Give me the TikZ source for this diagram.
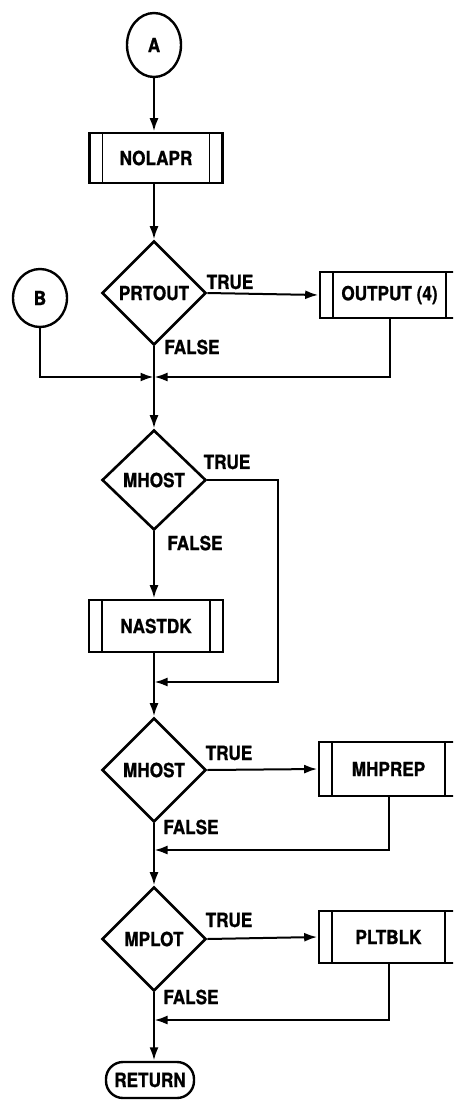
\documentclass[tikz,border=0pt]{standalone}
\usepackage{fontspec}
\setmainfont{TeX Gyre Heros}[BoldFeatures={FakeBold=1,FakeStretch=0.88}]
\usetikzlibrary{arrows.meta,shapes.geometric}

\begin{document}
\begin{tikzpicture}[x=1pt,y=-1pt,
  every node/.style={font=\bfseries\fontsize{19.5}{20}\selectfont},
  flow/.style={line width=2pt},
  arr/.style={flow,-{Latex[length=13pt,width=9pt]},shorten >=0.5pt},
  decision/.style={diamond,draw,line width=2.6pt,minimum width=104pt,
    minimum height=104pt,inner sep=0pt,aspect=1},
  connector/.style={ellipse,draw,line width=2.4pt,inner sep=0pt},
  procbox/.style={rectangle,draw,line width=2.6pt,minimum height=50pt,
    inner sep=0pt,
    path picture={
      \draw[line width=1.8pt]
        ([xshift=13pt]path picture bounding box.north west) --
        ([xshift=13pt]path picture bounding box.south west);
      \draw[line width=1.8pt]
        ([xshift=-13pt]path picture bounding box.north east) --
        ([xshift=-13pt]path picture bounding box.south east);}},
  terminal/.style={rectangle,draw,line width=2.4pt,rounded corners=17pt,
    minimum width=88pt,minimum height=36pt,inner sep=0pt},
  lbl/.style={inner sep=0pt}
]
\useasboundingbox (0,0) rectangle (453,1101);
\clip (0,0) rectangle (453,1101);

% off-page connectors
\node[connector,minimum width=54pt,minimum height=64pt] (A) at (154,45) {A};
\node[connector,minimum width=54pt,minimum height=58pt] (B) at (40,298) {B};

% main column
\node[procbox,minimum width=133pt] (nolapr) at (156,158) {NOLAPR};
\node[decision] (prtout) at (154,293) {PRTOUT};
\node[procbox,minimum width=139pt,minimum height=46pt] (output) at (389.5,295) {OUTPUT (4)};
\coordinate (j1) at (154,377);

\node[decision,minimum height=100pt] (mhost1) at (154,480) {MHOST};
\node[procbox,minimum width=134pt,minimum height=52pt] (nastdk) at (156,626) {NASTDK};
\coordinate (t1) at (278,480);
\coordinate (j2) at (154,682);

\node[decision] (mhost2) at (154,770) {MHOST};
\node[procbox,minimum width=139pt,minimum height=54pt] (mhprep) at (388.5,769) {MHPREP};
\coordinate (j3) at (154,850);

\node[decision] (mplot) at (154,939) {MPLOT};
\node[procbox,minimum width=139pt,minimum height=52pt] (pltblk) at (388.5,937) {PLTBLK};
\coordinate (j4) at (154,1020);

\node[terminal] (ret) at (150,1080) {RETURN};

% branch labels
\node[lbl] (tr1) at (230,282) {TRUE};
\node[lbl] (fa1) at (192,347) {FALSE};
\node[lbl] (tr2) at (227,462) {TRUE};
\node[lbl] (fa2) at (195,543) {FALSE};
\node[lbl] (tr3) at (229,753) {TRUE};
\node[lbl] (fa3) at (191,827) {FALSE};
\node[lbl] (tr4) at (229,920) {TRUE};
\node[lbl] (fa4) at (191,997) {FALSE};

% connectors
\draw[arr] (A) -- (A |- nolapr.north);
\draw[arr] (nolapr.south -| prtout) -- (prtout.north);
\draw[arr] (prtout.east) -- (output.west);
\draw[flow] (prtout.south) -- (j1);
\draw[arr] (B.south) |- (j1);
\draw[arr] (output.south) |- (j1);
\draw[arr] (j1) -- (mhost1.north);

\draw[arr] (mhost1.south) -- (mhost1.south |- nastdk.north);
\draw[arr] (mhost1.east) -- (t1) |- (j2);
\draw[flow] (nastdk.south -| j2) -- (j2);
\draw[arr] (j2) -- (mhost2.north);

\draw[arr] (mhost2.east) -- (mhprep.west);
\draw[flow] (mhost2.south) -- (j3);
\draw[arr] (mhprep.south) |- (j3);
\draw[arr] (j3) -- (mplot.north);

\draw[arr] (mplot.east) -- (pltblk.west);
\draw[flow] (mplot.south) -- (j4);
\draw[arr] (pltblk.south) |- (j4);
\draw[arr] (j4) -- (j4 |- ret.north);
\end{tikzpicture}
\end{document}
